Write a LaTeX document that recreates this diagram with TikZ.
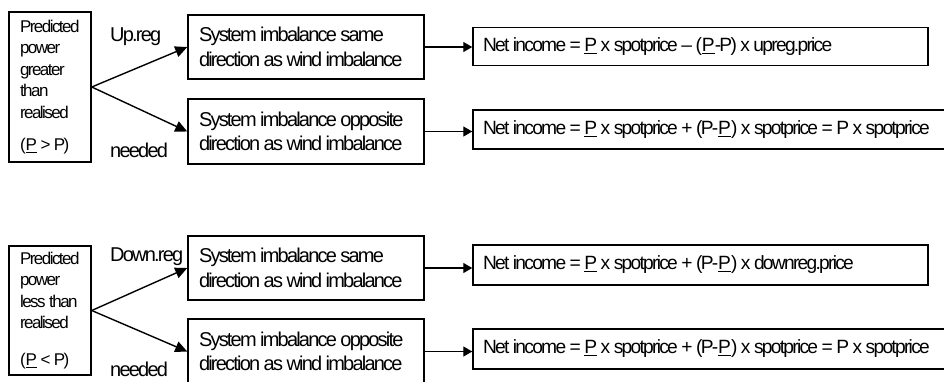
\documentclass[tikz,border=0pt]{standalone}
\usepackage{fontspec}
\setmainfont{Liberation Sans}[LetterSpace=-9]
\usetikzlibrary{arrows.meta}
\newcommand{\tightsp}{\spaceskip=3.5pt plus 1pt minus 0.5pt\xspaceskip=3.5pt\relax}
\begin{document}
\begin{tikzpicture}[x=1pt,y=-1pt,
  box/.style={draw, line width=1.5pt, rectangle, inner ysep=0pt, align=flush left},
  leftbox/.style={box, inner xsep=11pt, text width=60pt, minimum width=82pt, font=\fontsize{17}{21.5}\selectfont\tightsp},
  midbox/.style={box, inner xsep=11pt, text width=214pt, minimum width=236pt, minimum height=64pt, font=\fontsize{20}{24.5}\selectfont\tightsp},
  fbox/.style={box, inner xsep=10pt, font=\fontsize{19.2}{24}\selectfont\tightsp},
  lbl/.style={inner sep=0pt, anchor=west, font=\fontsize{20}{24}\selectfont\tightsp},
  arr/.style={line width=1.4pt, -{Triangle[length=12pt,width=11pt]}},
  arrb/.style={line width=1.4pt, -{Triangle[length=9pt,width=10pt]}}]
\clip (0,0) rectangle (944,381);
% top half
\node[leftbox, minimum height=150pt] (L1) at (50,87) {Predicted\\power\\greater\\than\\realised\\[11pt](\underline{P} > P)};
\node[midbox] (A1) at (306,47) {System imbalance same\\direction as wind imbalance};
\node[midbox, minimum height=65pt] (B1) at (306,131.5) {System imbalance opposite\\direction as wind imbalance};
\node[fbox, text width=435pt, minimum width=455pt, minimum height=38pt] (F1) at (700.5,46.5) {\mbox{Net income = \underline{P} x spotprice -- (\underline{P}-P) x upreg.price}};
\node[fbox, text width=457pt, minimum width=477pt, minimum height=39pt] (G1) at (711.5,129.5) {\mbox{Net income = \underline{P} x spotprice + (P-\underline{P}) x spotprice = P x spotprice}};
\node[lbl] (U1) at (110,37) {Up.reg};
\node[lbl] (N1) at (110,150) {needed};
\draw[arr] (L1.east) -- (A1.west);
\draw[arr] (L1.east) -- (B1.west);
\draw[arrb] (A1.east) -- (F1.west |- A1.east);
\draw[arrb] (B1.east) -- (G1.west |- B1.east);
% bottom half
\node[leftbox, minimum height=129pt] (L2) at (50,310.5) {Predicted\\power\\less than\\realised\\[15pt](\underline{P} < P)};
\node[midbox] (A2) at (306,268) {System imbalance same\\direction as wind imbalance};
\node[midbox, minimum height=65pt] (B2) at (306,351.5) {System imbalance opposite\\direction as wind imbalance};
\node[fbox, text width=435pt, minimum width=455pt, minimum height=40pt] (F2) at (700.5,265) {\mbox{Net income = \underline{P} x spotprice + (P-\underline{P}) x downreg.price}};
\node[fbox, text width=457pt, minimum width=477pt, minimum height=40pt] (G2) at (711.5,349) {\mbox{Net income = \underline{P} x spotprice + (P-\underline{P}) x spotprice = P x spotprice}};
\node[lbl] (U2) at (110,257) {Down.reg};
\node[lbl] (N2) at (110,369) {needed};
\draw[arr] (L2.east) -- (A2.west);
\draw[arr] (L2.east) -- (B2.west);
\draw[arrb] (A2.east) -- (F2.west |- A2.east);
\draw[arrb] (B2.east) -- (G2.west |- B2.east);
\end{tikzpicture}
\end{document}
